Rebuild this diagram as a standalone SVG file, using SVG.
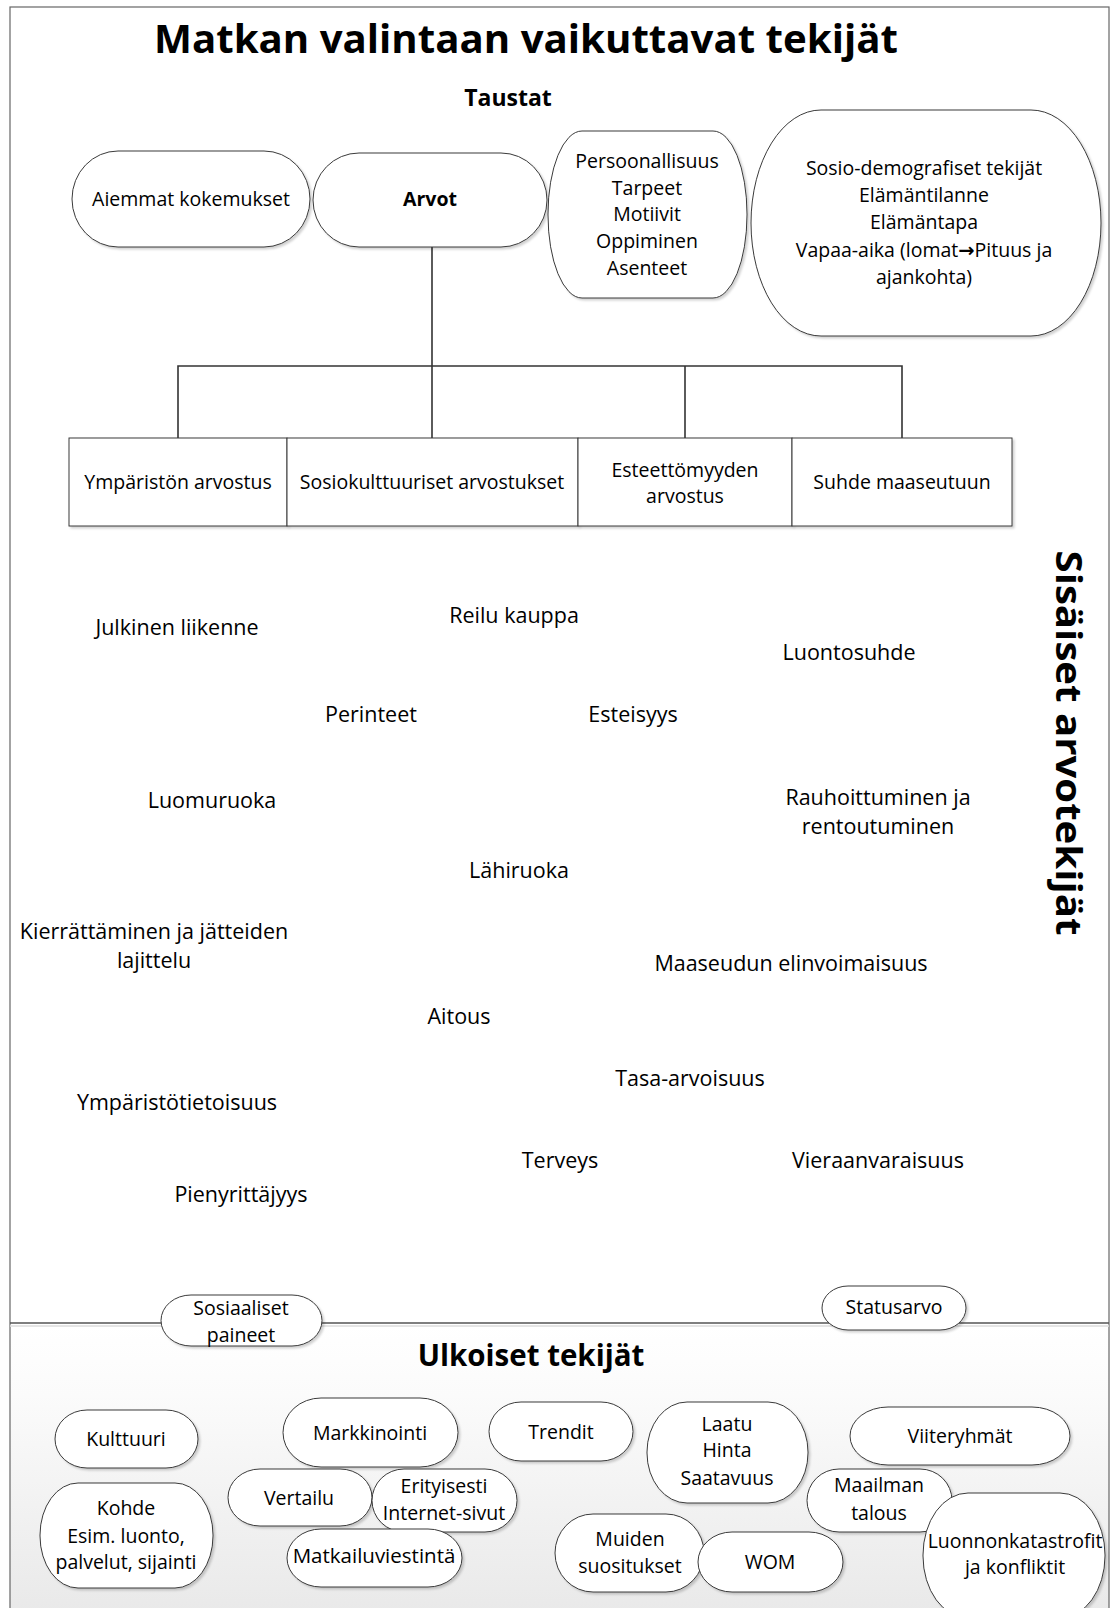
<svg xmlns="http://www.w3.org/2000/svg" width="1114" height="1608" viewBox="0 0 1114 1608">
<defs>
  <linearGradient id="bg" x1="0" y1="0" x2="0" y2="1">
    <stop offset="0" stop-color="#ffffff"/>
    <stop offset="0.25" stop-color="#fbfbfb"/>
    <stop offset="1" stop-color="#e9e9e9"/>
  </linearGradient>
  <filter id="sh" x="-10%" y="-10%" width="130%" height="130%">
    <feDropShadow dx="2" dy="2" stdDeviation="1" flood-color="#000" flood-opacity="0.18"/>
  </filter>
</defs>
<style>
  .n{fill:#fff;stroke:#3a3a3a;stroke-width:1;filter:url(#sh)}
  .t{font-family:"Open Sans","Liberation Sans",sans-serif;font-size:19.5px;fill:#000;text-anchor:middle}
  .ft{font-size:21.5px}
  .b{font-weight:bold}
  .ar{font-family:"DejaVu Sans",sans-serif;font-weight:bold}
  .c{fill:none;stroke:#333;stroke-width:1.6}
  .f{fill:none;stroke:#666;stroke-width:1.2}
</style>

<!-- background & frame -->
<rect x="0" y="0" width="1114" height="1608" fill="#fff"/>
<rect x="10" y="1323" width="1099" height="290" fill="url(#bg)"/>
<rect class="f" x="10" y="7" width="1099" height="1610"/>
<line x1="10" y1="1326" x2="1109" y2="1326" stroke="#ddd" stroke-width="1.5"/>
<line x1="10" y1="1323" x2="1109" y2="1323" stroke="#555" stroke-width="1.3"/>

<!-- titles -->
<text class="t b" x="526" y="53" textLength="744" lengthAdjust="spacingAndGlyphs" style="font-size:40px">Matkan valintaan vaikuttavat tekijät</text>
<text class="t b" x="508" y="106" style="font-size:23px">Taustat</text>
<text class="t b" x="531" y="1366" style="font-size:29.5px">Ulkoiset tekijät</text>
<text class="t b" transform="translate(1067,743) rotate(90)" x="0" y="11" textLength="385" lengthAdjust="spacingAndGlyphs" style="font-size:36px">Sisäiset arvotekijät</text>

<!-- connectors -->
<g id="connectors">
  <path class="c" d="M432,247 V366"/>
  <path class="c" d="M178,438 V366 H902 V438"/>
  <path class="c" d="M432,366 V438"/>
  <path class="c" d="M685,366 V438"/>
</g>

<!-- top nodes -->
<g id="aiemmat"><rect class="n" x="72" y="151" width="238" height="96" rx="46" ry="48"/><text class="t" x="191" y="206">Aiemmat kokemukset</text></g>
<g id="arvot"><rect class="n" x="313" y="153" width="234" height="94" rx="46" ry="47"/><text class="t b" x="430" y="206">Arvot</text></g>
<g id="persoonallisuus"><rect class="n" x="548" y="131" width="199" height="167" rx="34" ry="83"/>
  <text class="t" x="647" y="168">Persoonallisuus</text>
  <text class="t" x="647" y="195">Tarpeet</text>
  <text class="t" x="647" y="221">Motiivit</text>
  <text class="t" x="647" y="248">Oppiminen</text>
  <text class="t" x="647" y="275">Asenteet</text>
</g>
<g id="sosio"><rect class="n" x="751" y="110" width="350" height="226" rx="70" ry="113"/>
  <text class="t" x="924" y="175">Sosio-demografiset tekijät</text>
  <text class="t" x="924" y="202">Elämäntilanne</text>
  <text class="t" x="924" y="229">Elämäntapa</text>
  <text class="t" x="924" y="257">Vapaa-aika (lomat<tspan class="ar">→</tspan>Pituus ja</text>
  <text class="t" x="924" y="284">ajankohta)</text>
</g>

<!-- value boxes -->
<g id="ymparisto"><rect class="n" x="69" y="438" width="218" height="88"/><text class="t" x="178" y="489">Ympäristön arvostus</text></g>
<g id="sosiokulttuuriset"><rect class="n" x="287" y="438" width="291" height="88"/><text class="t" x="432" y="489">Sosiokulttuuriset arvostukset</text></g>
<g id="esteettomyys"><rect class="n" x="578" y="438" width="214" height="88"/><text class="t" x="685" y="477">Esteettömyyden</text><text class="t" x="685" y="503">arvostus</text></g>
<g id="maaseutu"><rect class="n" x="792" y="438" width="220" height="88"/><text class="t" x="902" y="489">Suhde maaseutuun</text></g>

<!-- free value texts -->
<g id="arvotekijat">
  <text class="t ft" x="177" y="635">Julkinen liikenne</text>
  <text class="t ft" x="514" y="623">Reilu kauppa</text>
  <text class="t ft" x="849" y="660">Luontosuhde</text>
  <text class="t ft" x="371" y="722">Perinteet</text>
  <text class="t ft" x="633" y="722">Esteisyys</text>
  <text class="t ft" x="212" y="808">Luomuruoka</text>
  <text class="t ft" x="878" y="805">Rauhoittuminen ja</text>
  <text class="t ft" x="878" y="834">rentoutuminen</text>
  <text class="t ft" x="519" y="878">Lähiruoka</text>
  <text class="t ft" x="154" y="939">Kierrättäminen ja jätteiden</text>
  <text class="t ft" x="154" y="968">lajittelu</text>
  <text class="t ft" x="791" y="971">Maaseudun elinvoimaisuus</text>
  <text class="t ft" x="459" y="1024">Aitous</text>
  <text class="t ft" x="690" y="1086">Tasa-arvoisuus</text>
  <text class="t ft" x="177" y="1110">Ympäristötietoisuus</text>
  <text class="t ft" x="560" y="1168">Terveys</text>
  <text class="t ft" x="878" y="1168">Vieraanvaraisuus</text>
  <text class="t ft" x="241" y="1202">Pienyrittäjyys</text>
</g>

<!-- boundary nodes -->
<g id="sosiaaliset"><rect class="n" x="161" y="1295" width="161" height="51" rx="30" ry="25.5"/><text class="t" x="241" y="1315">Sosiaaliset</text><text class="t" x="241" y="1342">paineet</text></g>
<g id="statusarvo"><rect class="n" x="822" y="1286" width="144" height="44" rx="26" ry="22"/><text class="t" x="894" y="1314">Statusarvo</text></g>

<!-- external nodes -->
<g id="kulttuuri"><rect class="n" x="55" y="1410" width="143" height="58" rx="32" ry="29"/><text class="t" x="126" y="1446">Kulttuuri</text></g>
<g id="kohde"><rect class="n" x="40" y="1483" width="173" height="105" rx="38" ry="52"/>
  <text class="t" x="126" y="1515">Kohde</text>
  <text class="t" x="126" y="1543">Esim. luonto,</text>
  <text class="t" x="126" y="1569">palvelut, sijainti</text>
</g>
<g id="markkinointi"><rect class="n" x="283" y="1398" width="175" height="69" rx="38" ry="34.5"/><text class="t" x="370" y="1440">Markkinointi</text></g>
<g id="vertailu"><rect class="n" x="228" y="1469" width="144" height="57" rx="32" ry="28.5"/><text class="t" x="299" y="1505">Vertailu</text></g>
<g id="erityisesti"><rect class="n" x="372" y="1469" width="145" height="63" rx="32" ry="31.5"/><text class="t" x="444" y="1493">Erityisesti</text><text class="t" x="444" y="1520">Internet-sivut</text></g>
<g id="matkailuviestinta"><rect class="n" x="287" y="1529" width="175" height="58" rx="34" ry="29"/><text class="t" x="374" y="1563" style="font-size:20.5px">Matkailuviestintä</text></g>
<g id="trendit"><rect class="n" x="489" y="1402" width="144" height="59" rx="32" ry="29.5"/><text class="t" x="561" y="1439">Trendit</text></g>
<g id="laatu"><rect class="n" x="647" y="1402" width="161" height="101" rx="40" ry="50"/>
  <text class="t" x="727" y="1431">Laatu</text>
  <text class="t" x="727" y="1457">Hinta</text>
  <text class="t" x="727" y="1485">Saatavuus</text>
</g>
<g id="viiteryhmat"><rect class="n" x="850" y="1407" width="220" height="58" rx="38" ry="29"/><text class="t" x="960" y="1443">Viiteryhmät</text></g>
<g id="maailman"><rect class="n" x="807" y="1469" width="145" height="63" rx="32" ry="31.5"/><text class="t" x="879" y="1492">Maailman</text><text class="t" x="879" y="1520">talous</text></g>
<g id="luonnonkatastrofit"><rect class="n" x="923" y="1493" width="182" height="125" rx="45" ry="62"/><text class="t" x="1015" y="1548">Luonnonkatastrofit</text><text class="t" x="1015" y="1574">ja konfliktit</text></g>
<g id="muiden"><rect class="n" x="555" y="1514" width="149" height="78" rx="38" ry="39"/><text class="t" x="630" y="1546">Muiden</text><text class="t" x="630" y="1573">suositukset</text></g>
<g id="wom"><rect class="n" x="698" y="1532" width="145" height="60" rx="34" ry="30"/><text class="t" x="770" y="1569">WOM</text></g>
</svg>
